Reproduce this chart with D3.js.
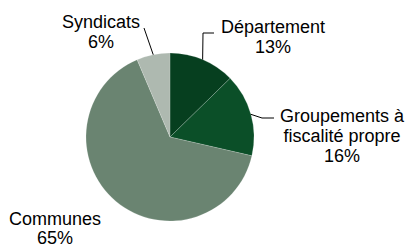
<!DOCTYPE html>
<html>
<head>
<meta charset="utf-8">
<script src="https://cdn.jsdelivr.net/npm/d3@7"></script>
<style>
  body { margin: 0; background: #fff; }
  text { font-family: "Liberation Sans", Arial, sans-serif; font-size: 18px; fill: #000; }
</style>
</head>
<body>
<svg id="chart" width="408" height="248"></svg>
<script>
var categories = ['Département', 'Groupements à\nfiscalité propre', 'Communes', 'Syndicats']
var values = [12.7, 15.9, 65.0, 6.4]
var colors = ['#063f1f', '#0b4f28', '#6a8471', '#aeb9b0']

// label placement (text centre x, first baseline y) and leader elbow points
var labelPos = [[273, 33], [342, 122], [55, 225], [101, 28]]
var leaders = [
  [[203, 33], [214, 33]],
  [[262, 118], [274, 118]],
  null,
  [[144, 28]]
]

var svg = d3.select('#chart')
  , cx = 170, cy = 137, r = 84
  , total = d3.sum(values)

var pie = d3.pie().sort(null).value(function(d) { return d })
var arc = d3.arc().innerRadius(0).outerRadius(r)
var arcs = pie(values)

var g = svg.append('g').attr('transform', 'translate(' + cx + ',' + cy + ')')

g.selectAll('path.slice').data(arcs)
  .enter().append('path').attr('class', 'slice')
  .attr('d', arc)
  .attr('fill', function(d, i) { return colors[i] })
  .attr('stroke', 'rgba(255,255,255,0.35)')
  .attr('stroke-width', 0.5)

// leader lines start at the slice mid angle on the rim
arcs.forEach(function(a, i) {
  if (!leaders[i]) return
  var mid = (a.startAngle + a.endAngle) / 2
  var pts = [[cx + r * Math.sin(mid), cy - r * Math.cos(mid)]].concat(leaders[i])
  svg.append('path')
    .attr('d', d3.line()(pts))
    .attr('fill', 'none')
    .attr('stroke', '#000')
    .attr('stroke-width', 1)
})

categories.forEach(function(c, i) {
  var lines = c.split('\n').concat([Math.round(values[i] / total * 100) + '%'])
  var t = svg.append('text')
    .attr('text-anchor', 'middle')
    .attr('x', labelPos[i][0])
    .attr('y', labelPos[i][1])
  lines.forEach(function(l, j) {
    t.append('tspan')
      .attr('x', labelPos[i][0])
      .attr('dy', j === 0 ? 0 : (i === 2 ? 19 : 20))
      .text(l)
  })
})
</script>
</body>
</html>
